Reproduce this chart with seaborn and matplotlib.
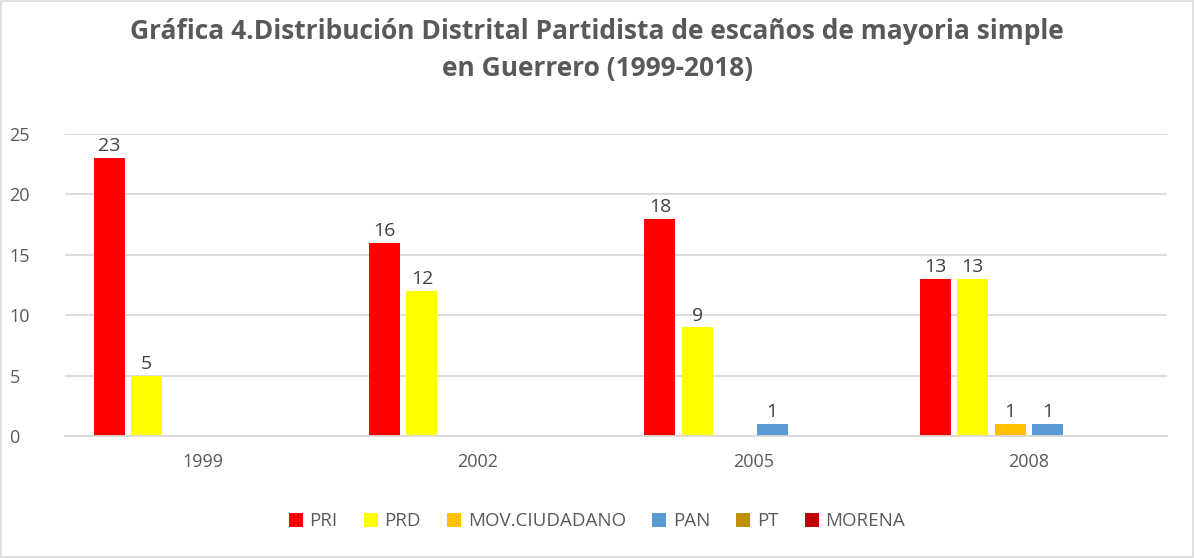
import pandas as pd
import matplotlib.pyplot as plt
import seaborn as sns
from matplotlib.patches import Rectangle

# Data
years = ['1999', '2002', '2005', '2008']
parties = ['PRI', 'PRD', 'MOV.CIUDADANO', 'PAN', 'PT', 'MORENA']
pri = [23, 16, 18, 13]
prd = [5, 12, 9, 13]
mov = [0, 0, 0, 1]
pan = [0, 0, 1, 1]
pt = [0, 0, 0, 0]
morena = [0, 0, 0, 0]
colors = ['#FF0000', '#FFFF00', '#FFC000', '#5B9BD5', '#BF8F00', '#C00000']

series = dict(zip(parties, [pri, prd, mov, pan, pt, morena]))
rows = []
for p in parties:
    for y, v in zip(years, series[p]):
        rows.append({'year': y, 'party': p, 'seats': v})
df = pd.DataFrame(rows)

sns.set_style('white')
plt.rcParams['font.family'] = ['Open Sans', 'DejaVu Sans']

fig = plt.figure(figsize=(11.94, 5.58), dpi=100)
ax = fig.add_axes([0.0544, 0.2186, 0.9226, 0.5413])

sns.barplot(data=df, x='year', y='seats', hue='party', hue_order=parties,
            palette=colors, width=0.815, gap=0.17, saturation=1,
            errorbar=None, linewidth=0, ax=ax)

for cont in ax.containers:
    labels = [f'{int(b.get_height())}' if b.get_height() > 0 else '' for b in cont]
    ax.bar_label(cont, labels=labels, padding=2, fontsize=14, color='#404040')

ax.set_ylim(0, 25)
ax.set_yticks([0, 5, 10, 15, 20, 25])
ax.yaxis.grid(True, color='#D9D9D9', linewidth=1.3)
ax.set_axisbelow(True)
for s in ['top', 'right', 'left']:
    ax.spines[s].set_visible(False)
ax.spines['bottom'].set_color('#D9D9D9')
ax.spines['bottom'].set_linewidth(1.3)
ax.tick_params(axis='both', length=0, labelsize=13, labelcolor='#595959')
ax.tick_params(axis='x', pad=12)
ax.tick_params(axis='y', pad=40)
for lab in ax.get_yticklabels():
    lab.set_horizontalalignment('left')
ax.set_xlabel('')
ax.set_ylabel('')

leg = ax.legend(loc='center', bbox_to_anchor=(0.5, 0.066), bbox_transform=fig.transFigure,
                ncol=6, frameon=False, fontsize=13.5, handlelength=0.75, handleheight=0.75,
                handletextpad=0.35, columnspacing=1.4, labelcolor='#595959')

fig.text(0.5, 0.91, 'Gráfica 4.Distribución Distrital Partidista de escaños de mayoria simple\nen Guerrero (1999-2018)',
         ha='center', va='center', fontsize=19, fontweight='bold', color='#595959', linespacing=1.45)

fig.patches.append(Rectangle((0.001, 0.001), 0.998, 0.997, transform=fig.transFigure,
                             fill=False, edgecolor='#D9D9D9', linewidth=1.2))

fig.savefig('out.png', dpi=100)
